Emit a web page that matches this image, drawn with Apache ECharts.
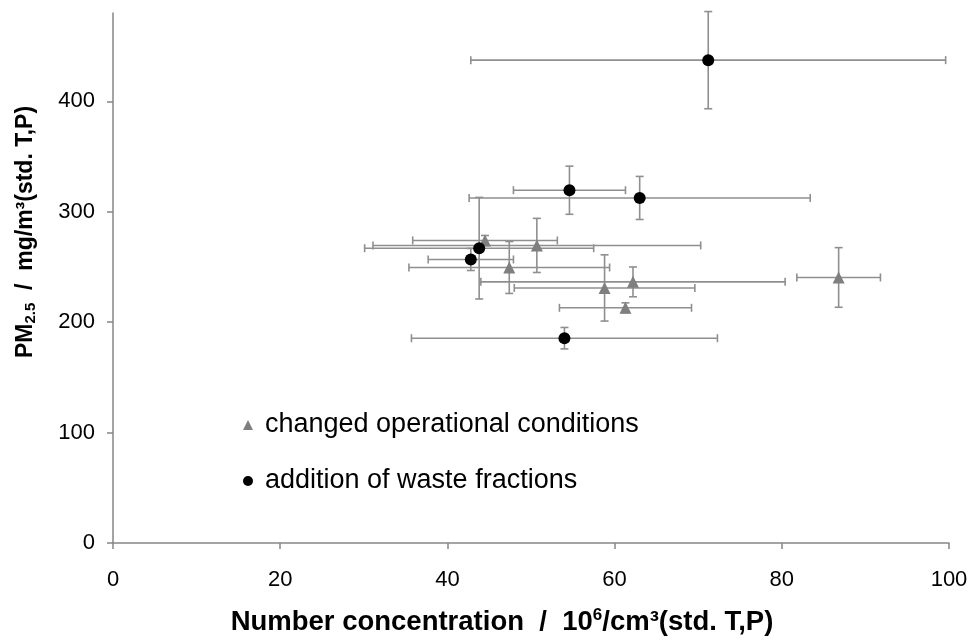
<!DOCTYPE html>
<html>
<head>
<meta charset="utf-8">
<title>PM2.5 vs number concentration</title>
<script src="https://cdn.jsdelivr.net/npm/echarts@6/dist/echarts.min.js"></script>
<style>
  html, body { margin: 0; padding: 0; background: #fff; }
  #chart { width: 971px; height: 641px; }
</style>
</head>
<body>
<div id="chart"></div>
<script>
// Changed operational conditions: number concentration (10^6/cm3), PM2.5 (mg/m3), and symmetric errors
const opX    = [44.5, 50.7, 47.4, 58.8, 62.2, 61.3, 86.8];
const opY    = [274, 269.5, 249.5, 231, 236.5, 213, 240.5];
const opXErr = [8.65, 19.6, 12.0, 10.8, 18.2, 7.9, 5.0];
const opYErr = [4.5, 24.5, 23.5, 30, 13.5, 4.5, 27];

// Addition of waste fractions
const wfX    = [71.2, 54.6, 63.0, 43.8, 42.8, 54.0];
const wfY    = [437.3, 319.5, 312.5, 267, 256.8, 185.5];
const wfXErr = [28.4, 6.7, 20.4, 13.7, 5.1, 18.3];
const wfYErr = [44, 21.8, 19.5, 46, 10, 9.7];

const xTicks = [0, 20, 40, 60, 80, 100];
const yTicks = [0, 100, 200, 300, 400];

const seriesNames = ['changed operational conditions', 'addition of waste fractions'];

const FONT = '"Liberation Sans", Arial, Helvetica, sans-serif';
const AXIS_GREY = '#868686';
const BAR_GREY = '#8f8f8f';
const MARK_GREY = '#7f7f7f';

function rows(xs, ys, xe, ye) {
  return xs.map((x, i) => [x, ys[i], xe[i], ye[i]]);
}

// Cross-shaped error bars with end caps
function renderErrorBars(params, api) {
  const x = api.value(0), y = api.value(1), dx = api.value(2), dy = api.value(3);
  const left = api.coord([x - dx, y]);
  const right = api.coord([x + dx, y]);
  const top = api.coord([x, y + dy]);
  const bottom = api.coord([x, y - dy]);
  const cap = 4;
  const style = { stroke: BAR_GREY, lineWidth: 1.6, fill: null };
  const seg = (x1, y1, x2, y2) => ({ type: 'line', shape: { x1, y1, x2, y2 }, style });
  return {
    type: 'group',
    children: [
      seg(left[0], left[1], right[0], right[1]),
      seg(left[0], left[1] - cap, left[0], left[1] + cap),
      seg(right[0], right[1] - cap, right[0], right[1] + cap),
      seg(top[0], top[1], bottom[0], bottom[1]),
      seg(top[0] - cap, top[1], top[0] + cap, top[1]),
      seg(bottom[0] - cap, bottom[1], bottom[0] + cap, bottom[1])
    ]
  };
}

const chart = echarts.init(document.getElementById('chart'), null, { renderer: 'canvas' });

chart.setOption({
  animation: false,
  backgroundColor: '#ffffff',
  grid: { left: 113, right: 22, top: 13, bottom: 98, containLabel: false },
  legend: {
    orient: 'vertical',
    left: 238,
    top: 406,
    itemWidth: 10,
    itemHeight: 10,
    itemGap: 28,
    selectedMode: false,
    data: [
      { name: seriesNames[0], icon: 'triangle', itemStyle: { color: MARK_GREY } },
      { name: seriesNames[1], icon: 'circle', itemStyle: { color: '#000' } }
    ],
    textStyle: { fontFamily: FONT, fontSize: 27, color: '#000', lineHeight: 28, padding: [0, 0, 0, 7] }
  },
  xAxis: {
    type: 'value',
    min: 0,
    max: 100,
    interval: 20,
    splitLine: { show: false },
    axisLine: { show: true, onZero: false, lineStyle: { color: AXIS_GREY, width: 1.5 } },
    axisTick: { show: true, length: 6, lineStyle: { color: AXIS_GREY, width: 1.5 } },
    axisLabel: {
      margin: 26,
      fontFamily: FONT, fontSize: 22, color: '#000',
      customValues: xTicks
    }
  },
  yAxis: {
    type: 'value',
    min: 0,
    max: 480,
    splitLine: { show: false },
    axisLine: { show: true, onZero: false, lineStyle: { color: AXIS_GREY, width: 1.5 } },
    axisTick: { show: true, length: 6, lineStyle: { color: AXIS_GREY, width: 1.5 }, customValues: yTicks },
    axisLabel: {
      margin: 18,
      fontFamily: FONT, fontSize: 22, color: '#000',
      customValues: yTicks
    }
  },
  graphic: [
    {
      type: 'text',
      x: 502, y: 622,
      style: {
        x: 0, y: 0,
        text: '{b|Number concentration  /  10}{sup|6}{b|/cm³(std. T,P)}',
        align: 'center',
        verticalAlign: 'middle',
        rich: {
          b: { fontFamily: FONT, fontSize: 27.5, fontWeight: 'bold', fill: '#000' },
          sup: { fontFamily: FONT, fontSize: 17, fontWeight: 'bold', fill: '#000', padding: [0, 0, 13, 0] }
        }
      }
    },
    {
      type: 'text',
      x: 26, y: 232,
      rotation: Math.PI / 2,
      style: {
        x: 0, y: 0,
        text: '{b|PM}{sub|2.5}{b|  /  mg/m³(std. T,P)}',
        align: 'center',
        verticalAlign: 'middle',
        rich: {
          b: { fontFamily: FONT, fontSize: 23, fontWeight: 'bold', fill: '#000' },
          sub: { fontFamily: FONT, fontSize: 15, fontWeight: 'bold', fill: '#000', padding: [10, 0, 0, 0] }
        }
      }
    }
  ],
  series: [
    {
      type: 'custom',
      name: 'op-err',
      renderItem: renderErrorBars,
      data: rows(opX, opY, opXErr, opYErr),
      encode: { x: 0, y: 1 },
      silent: true,
      z: 1
    },
    {
      type: 'custom',
      name: 'wf-err',
      renderItem: renderErrorBars,
      data: rows(wfX, wfY, wfXErr, wfYErr),
      encode: { x: 0, y: 1 },
      silent: true,
      z: 1
    },
    {
      type: 'scatter',
      name: seriesNames[0],
      symbol: 'triangle',
      symbolSize: 12,
      itemStyle: { color: MARK_GREY, opacity: 1 },
      data: opX.map((x, i) => [x, opY[i]]),
      z: 3
    },
    {
      type: 'scatter',
      name: seriesNames[1],
      symbol: 'circle',
      symbolSize: 12,
      itemStyle: { color: '#000', opacity: 1 },
      data: wfX.map((x, i) => [x, wfY[i]]),
      z: 4
    }
  ]
});
</script>
</body>
</html>
